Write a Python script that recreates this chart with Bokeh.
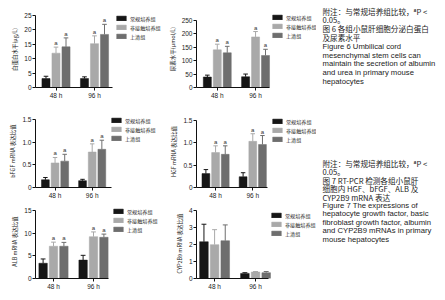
from bokeh.plotting import figure
from bokeh.models import Range1d, FixedTicker, Legend, LegendItem, ColumnDataSource
from bokeh.layouts import row, column
from bokeh.embed import file_html
from bokeh.resources import INLINE
from bokeh.core.properties import value

# ---------------- data ----------------
groups = ["48 h", "96 h"]
series = ["常规培养组", "非接触培养组", "上清组"]
colors = ["#161616", "#a9a9a9", "#6e6e6e"]

# mean[series][group], sd[series][group]
alb_prot_mean = [[3.1, 3.1], [11.9, 15.2], [14.1, 18.4]]
alb_prot_sd = [[0.8, 0.6], [2.1, 2.7], [3.1, 3.5]]
urea_mean = [[39, 40], [140, 188], [129, 119]]
urea_sd = [[7, 10], [21, 20], [24, 23]]
bfgf_mean = [[0.17, 0.15], [0.54, 0.78], [0.58, 0.84]]
bfgf_sd = [[0.05, 0.03], [0.12, 0.18], [0.15, 0.20]]
hgf_mean = [[0.31, 0.24], [0.78, 1.03], [0.74, 0.96]]
hgf_sd = [[0.09, 0.09], [0.15, 0.17], [0.19, 0.20]]
alb_mrna_mean = [[3.35, 4.05], [7.1, 9.2], [7.1, 9.07]]
alb_mrna_sd = [[0.95, 1.05], [0.9, 1.05], [0.85, 0.7]]
cyp_mean = [[2.16, 0.30], [1.99, 0.38], [2.22, 0.34]]
cyp_sd = [[1.03, 0.04], [0.88, 0.03], [0.93, 0.07]]

sig_marks = ["", "a", "a"]  # marks above series (vs control)
no_marks = ["", "", ""]

ticks_alb = [0, 5, 10, 15, 20, 25]
ticklabels_alb = ["0", "5", "10", "15", "20", "25"]
ticks_urea = [0, 50, 100, 150, 200, 250]
ticklabels_urea = ["0", "50", "100", "150", "200", "250"]
ticks_ratio = [0, 0.5, 1.0, 1.5]
ticklabels_ratio = ["0", "0.5", "1.0", "1.5"]
ticks_albm = [0, 5, 10, 15]
ticklabels_albm = ["0", "5", "10", "15"]
ticks_cyp = [0, 1, 2, 3, 4]
ticklabels_cyp = ["0", "1", "2", "3", "4"]

ylabel_alb = "白蛋白水平(μg/L)"
ylabel_urea = "尿素水平(μmol/L)"
ylabel_bfgf = "bFGF mRNA 表达比值"
ylabel_hgf = "HGF mRNA 表达比值"
ylabel_albm = "ALB mRNA 表达比值"
ylabel_cyp = "CYP2B9 mRNA 表达比值"

caption6_cn = ["附注：与常规培养组比较，ªP <", "0.05。", "图 6  各组小鼠肝细胞分泌白蛋白", "及尿素水平"]
caption6_en = ["Figure 6  Umbilical cord", "mesenchymal stem cells can",
               "maintain the secretion of albumin", "and urea in primary mouse", "hepatocytes"]
caption7_cn = ["附注：与常规培养组比较，ªP <", "0.05。", "图 7  RT-PCR 检测各组小鼠肝",
               "细胞内 HGF、bFGF、ALB 及", "CYP2B9 mRNA 表达"]
caption7_en = ["Figure 7  The expressions of", "hepatocyte growth factor, basic",
               "fibroblast growth factor, albumin", "and CYP2B9 mRNAs in primary", "mouse hepatocytes"]

# ---------------- styling ----------------
CJK = "Noto Sans CJK SC"
LAT = "Liberation Sans"
offsets = [-0.26, 0.0, 0.26]
bar_w = 0.21
cap_half = 0.06
LEG_ITEM_H = 7.5
LEG_SPACING = 2


def panel(box, axis_px, centers_px, legend_px, yticks, yticklabels, ylabel, means, sds, marks):
    # pixel layout numbers are page coordinates
    ox, oy, w, h = box
    AL, AE, FT, FB = axis_px
    c1, c2 = centers_px
    LX, LY = legend_px
    L = AL - ox
    top_px = min(FT, LY - 8)
    T = top_px - oy
    B = oy + h - FB
    FW = w - L
    pitch = c2 - c1
    x0 = 1 - (c1 - AL) / pitch
    x1 = x0 + FW / pitch
    xe = x0 + (AE - AL) / pitch
    ytop = yticks[-1]
    y1 = ytop * (FB - top_px) / (FB - FT)

    p = figure(width=w, height=h, output_backend="svg", toolbar_location=None,
               x_range=Range1d(x0, x1), y_range=Range1d(0, y1),
               min_border_left=L, min_border_right=0, min_border_top=T, min_border_bottom=B)
    p.outline_line_color = None
    p.xgrid.visible = False
    p.ygrid.visible = False
    p.background_fill_color = "white"
    p.border_fill_color = "white"

    items = []
    for si in range(len(series)):
        xs = [gi + 1 + offsets[si] for gi in range(len(groups))]
        ups = [m + s for m, s in zip(means[si], sds[si])]
        src = ColumnDataSource(dict(x=xs, top=means[si], up=ups,
                                    cl=[x - cap_half for x in xs], cr=[x + cap_half for x in xs],
                                    mk=[marks[si]] * len(xs)))
        r = p.vbar(x="x", top="top", bottom=0, width=bar_w, source=src,
                   fill_color=colors[si], line_color=colors[si], line_width=0.5)
        p.segment(x0="x", y0="top", x1="x", y1="up", source=src, line_color=colors[si], line_width=1)
        p.segment(x0="cl", y0="up", x1="cr", y1="up", source=src, line_color=colors[si], line_width=1)
        if marks[si]:
            p.text(x="x", y="up", text="mk", source=src, text_align="center", text_baseline="bottom",
                   y_offset=-1, text_font=value(LAT), text_font_size="6px", text_color="#333333")
        items.append(LegendItem(label=series[si], renderers=[r]))

    leg_h = 3 * LEG_ITEM_H + 2 * LEG_SPACING
    leg_bottom = LY - LEG_ITEM_H / 2 + leg_h
    legend = Legend(items=items, location=(LX - AL, FB - leg_bottom), margin=0, padding=0,
                    spacing=LEG_SPACING, glyph_width=12, glyph_height=6, label_standoff=3,
                    label_text_font=CJK, label_text_font_size="5.1px", label_text_color="#222222",
                    border_line_alpha=0, background_fill_alpha=0)
    p.add_layout(legend)

    p.xaxis.ticker = FixedTicker(ticks=[1, 2])
    p.xaxis.major_label_overrides = {1: groups[0], 2: groups[1]}
    p.xaxis.bounds = (x0, xe)
    p.yaxis.ticker = FixedTicker(ticks=[float(t) for t in yticks])
    p.yaxis.major_label_overrides = {float(t): l for t, l in zip(yticks, yticklabels)}
    p.yaxis.bounds = (0, ytop)
    p.yaxis.axis_label = ylabel
    for ax in (p.xaxis, p.yaxis):
        ax.axis_line_color = "#111111"
        ax.axis_line_width = 1
        ax.major_tick_line_color = "#111111"
        ax.major_tick_out = 3
        ax.major_tick_in = 0
        ax.minor_tick_line_color = None
        ax.major_label_text_font = LAT
        ax.major_label_text_font_size = "6.5px"
        ax.major_label_text_color = "#222222"
        ax.major_label_standoff = 1
    p.yaxis.axis_label_text_font = CJK
    p.yaxis.axis_label_text_font_size = "5.5px"
    p.yaxis.axis_label_text_font_style = "normal"
    p.yaxis.axis_label_text_color = "#222222"
    p.yaxis.axis_label_standoff = 2
    return p


p1 = panel((0, 0, 165, 101), (35, 112, 15, 89), (55.5, 94), (115, 19),
           ticks_alb, ticklabels_alb, ylabel_alb, alb_prot_mean, alb_prot_sd, sig_marks)
p2 = panel((165, 0, 151, 101), (189, 266, 20, 89), (211, 251.5), (264, 18),
           ticks_urea, ticklabels_urea, ylabel_urea, urea_mean, urea_sd, sig_marks)
p4 = panel((0, 101, 165, 100), (32, 110, 119, 190), (52, 90), (107, 122),
           ticks_ratio, ticklabels_ratio, ylabel_bfgf, bfgf_mean, bfgf_sd, sig_marks)
p5 = panel((165, 101, 151, 100), (187, 263, 120, 190), (207.5, 247.5), (262, 123),
           ticks_ratio, ticklabels_ratio, ylabel_hgf, hgf_mean, hgf_sd, sig_marks)
p7 = panel((0, 201, 165, 91), (35, 108, 210, 280), (53, 93), (112, 212),
           ticks_albm, ticklabels_albm, ylabel_albm, alb_mrna_mean, alb_mrna_sd, sig_marks)
p8 = panel((165, 201, 151, 91), (190, 266, 210, 280), (209, 252), (264, 216),
           ticks_cyp, ticklabels_cyp, ylabel_cyp, cyp_mean, cyp_sd, no_marks)

# ---------------- captions ----------------
cap = figure(width=121, height=292, output_backend="svg", toolbar_location=None,
             x_range=Range1d(316, 437), y_range=Range1d(292, 0), min_border=0)
cap.axis.visible = False
cap.xgrid.visible = False
cap.ygrid.visible = False
cap.outline_line_color = None


def caption(cn, en, y0, pitch):
    ys = [y0 + i * pitch for i in range(len(cn) + len(en))]
    cap.text(x=[322] * len(cn), y=ys[:len(cn)], text=cn, text_font=value(CJK), text_font_size="7.6px",
             text_baseline="middle", text_color="#222222")
    cap.text(x=[322] * len(en), y=ys[len(cn):], text=en, text_font=value(LAT), text_font_size="7.7px",
             text_baseline="middle", text_color="#222222")


caption(caption6_cn, caption6_en, 10.5, 8.8)
caption(caption7_cn, caption7_en, 163, 8.4)

layout = row(column(p1, p4, p7), column(p2, p5, p8), cap)

open("out.html", "w").write(file_html(layout, INLINE))
